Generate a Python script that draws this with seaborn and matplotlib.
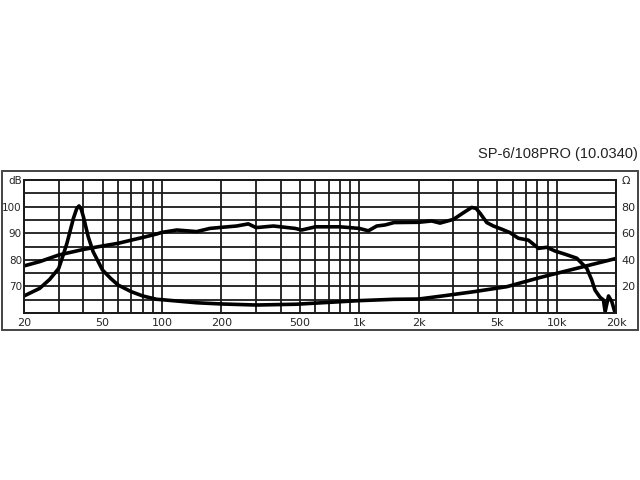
import numpy as np
import pandas as pd
import seaborn as sns
import matplotlib
matplotlib.use("Agg")
import matplotlib.pyplot as plt
from matplotlib.patches import Rectangle

# frequency response (dB, left axis)
spl_freq = [20, 24, 30, 40, 50, 60, 70, 80, 94, 100, 119, 150, 175, 200, 239, 274, 300,
            367, 400, 473, 511, 600, 800, 1000, 1112, 1226, 1352, 1500, 2000, 2330, 2565,
            3000, 3372, 3716, 3908, 4095, 4427, 4785, 5277, 5810, 6400, 7190, 7620, 8090,
            8920, 9820, 11040, 12650, 14220, 15070, 15660, 16600, 17270, 17620, 18330,
            19060, 19790]
spl_db = [77.7, 79.3, 81.8, 83.9, 85.2, 86.2, 87.4, 88.4, 89.7, 90.3, 91.2, 90.6, 91.8,
          92.2, 92.7, 93.5, 92.1, 92.7, 92.4, 91.8, 91.2, 92.4, 92.4, 91.8, 90.9, 92.7,
          93.1, 94.0, 94.1, 94.6, 93.8, 95.2, 97.7, 99.7, 99.3, 97.5, 94.0, 92.7, 91.5,
          90.2, 88.1, 87.4, 85.9, 84.3, 84.7, 83.3, 82.1, 80.6, 76.8, 72.4, 68.6, 65.9,
          64.9, 60.5, 66.4, 64.2, 60.0]

# impedance (Ohm, right axis)
imp_freq = [20, 24, 27, 30, 31.5, 33, 35.6, 37, 38, 39, 40, 42.3, 44.8, 50, 55, 60, 70, 80,
            94, 100, 150, 200, 300, 480, 1000, 1500, 2000, 2700, 3800, 5600, 8300, 12200,
            20000]
imp_ohm = [12.8, 18.5, 25.3, 33.6, 43.0, 52.4, 71.2, 78.5, 80.5, 78.0, 72.4, 57.4, 46.1,
           32.3, 26.0, 21.0, 16.0, 12.8, 10.3, 10.0, 7.7, 6.8, 6.0, 6.6, 9.3, 10.3, 10.5,
           13.0, 16.0, 19.8, 26.8, 33.0, 41.0]

grid_freqs = [20, 30, 40, 50, 60, 70, 80, 90, 100, 200, 300, 400, 500, 600, 700, 800, 900,
              1000, 2000, 3000, 4000, 5000, 6000, 7000, 8000, 9000, 10000, 20000]
freq_labels = {20: "20", 50: "50", 100: "100", 200: "200", 500: "500", 1000: "1k",
               2000: "2k", 5000: "5k", 10000: "10k", 20000: "20k"}
db_ticks = [60, 65, 70, 75, 80, 85, 90, 95, 100, 105, 110]
db_labels = {70: "70", 80: "80", 90: "90", 100: "100", 110: "dB"}
ohm_ticks = [20, 40, 60, 80, 100]
ohm_labels = ["20", "40", "60", "80", "Ω"]

title = "SP-6/108PRO (10.0340)"

sns.set_style("white")
plt.rcParams["font.family"] = ["DejaVu Sans"]

spl = pd.DataFrame({"f": spl_freq, "db": spl_db})
imp = pd.DataFrame({"f": imp_freq, "ohm": imp_ohm})

fig = plt.figure(figsize=(6.4, 4.8), dpi=100)
ax = fig.add_axes([24 / 640, 1 - 313 / 480, 592 / 640, 133 / 480])
ax2 = ax.twinx()

sns.lineplot(data=spl, x="f", y="db", ax=ax, color="black", linewidth=2.6)
sns.lineplot(data=imp, x="f", y="ohm", ax=ax2, color="black", linewidth=2.6)

ax.set_xscale("log")
ax.set_xlim(20, 20000)
ax.set_ylim(60, 110)
ax2.set_ylim(0, 100)

ax.set_xticks(grid_freqs)
ax.set_xticklabels([freq_labels.get(f, "") for f in grid_freqs])
ax.xaxis.set_minor_locator(plt.NullLocator())
ax.set_yticks(db_ticks)
ax.set_yticklabels([db_labels.get(v, "") for v in db_ticks])
ax2.set_yticks(ohm_ticks)
ax2.set_yticklabels(ohm_labels)

ax.grid(True, which="major", color="#1a1a1a", linewidth=1.3)
ax.tick_params(axis="x", length=0, pad=3.5, labelsize=8)
ax.tick_params(axis="y", length=0, pad=1.5, labelsize=7.5)
ax2.tick_params(axis="y", length=0, pad=4, labelsize=8)

ax.set_xlabel("")
ax.set_ylabel("")
ax2.set_ylabel("")
for a in (ax, ax2):
    for s in a.spines.values():
        s.set_color("#1a1a1a")
        s.set_linewidth(1.3)

fig.patches.append(Rectangle((2 / 640, 1 - 330 / 480), 636 / 640, 159 / 480,
                             transform=fig.transFigure, fill=False,
                             edgecolor="#444444", linewidth=1.4))

fig.text(638 / 640, 1 - 154 / 480, title, ha="right", va="center",
         fontsize=10.5, family="Liberation Sans", color="#222222")

fig.savefig("out.png", dpi=100)
